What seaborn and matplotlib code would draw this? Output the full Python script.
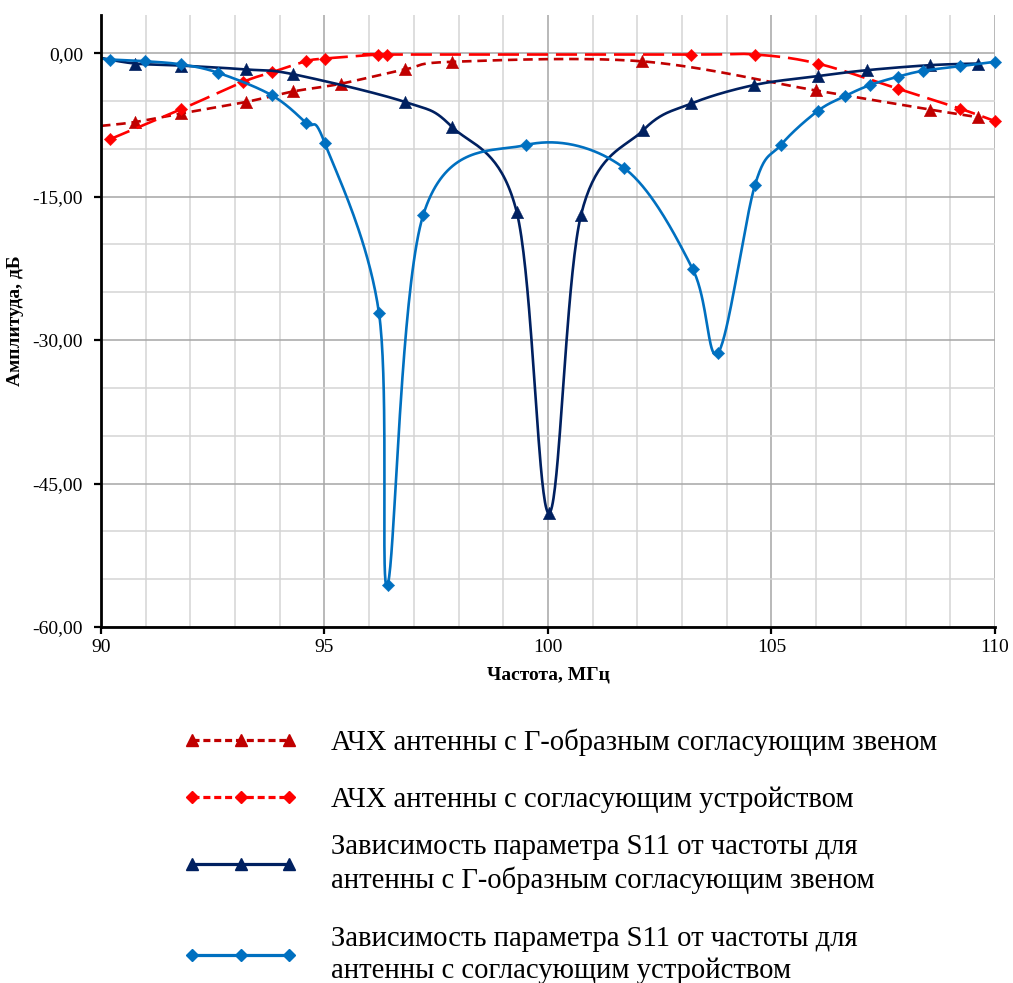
import numpy as np
import pandas as pd
import matplotlib
matplotlib.use("Agg")
import matplotlib.pyplot as plt
from matplotlib.lines import Line2D
from matplotlib.ticker import FixedLocator, FuncFormatter, MultipleLocator
import seaborn as sns

# ---------------- data ----------------
# АЧХ антенны с Г-образным согласующим звеном
afc_l_freq = [90.0, 90.76, 91.8, 93.24, 94.3, 95.36, 96.8, 97.85, 102.1, 106.0, 108.55, 109.63]
afc_l_db = [-7.6, -7.2, -6.3, -5.1, -4.0, -3.2, -1.7, -0.9, -0.85, -3.9, -5.9, -6.7]

# АЧХ антенны с согласующим устройством
afc_m_freq = [90.2, 91.8, 93.18, 93.82, 94.59, 95.01, 96.2, 96.39, 103.21, 104.63, 106.03,
              107.82, 109.22, 110.0]
afc_m_db = [-9.0, -5.85, -3.0, -2.0, -0.84, -0.56, -0.14, -0.14, -0.14, -0.14, -1.08,
            -3.7, -5.8, -7.1]

# S11, антенна с Г-образным согласующим звеном
s11_l_freq = [90.0, 90.76, 91.8, 93.24, 94.3, 96.8, 97.85, 99.3, 100.02, 100.74, 102.13,
              103.21, 104.6, 106.03, 107.13, 108.55, 109.63]
s11_l_db = [-0.5, -1.08, -1.3, -1.7, -2.2, -5.1, -7.7, -16.6, -48.1, -16.9, -8.05,
            -5.26, -3.34, -2.4, -1.78, -1.25, -1.08]

# S11, антенна с согласующим устройством
s11_m_freq = [90.0, 90.2, 90.98, 91.8, 92.62, 93.82, 94.59, 95.01, 96.22, 96.41, 97.21, 99.51,
              101.7, 103.24, 103.81, 104.63, 105.21, 106.03, 106.64, 107.2, 107.82, 108.38,
              109.22, 110.0]
s11_m_db = [-0.55, -0.66, -0.84, -1.18, -2.05, -4.4, -7.3, -9.44, -27.2, -55.6, -16.9, -9.6,
            -12.0, -22.6, -31.3, -13.8, -9.6, -6.06, -4.5, -3.34, -2.47, -1.85,
            -1.36, -0.9]

legend_labels = [
    "АЧХ антенны с Г-образным согласующим звеном",
    "АЧХ антенны с согласующим устройством",
    "Зависимость параметра S11 от частоты для\nантенны с Г-образным согласующим звеном",
    "Зависимость параметра S11 от частоты для\nантенны с согласующим устройством",
]
x_label = "Частота, МГц"
y_label = "Амплитуда, дБ"
x_ticks = [90, 95, 100, 105, 110]
y_ticks = [0, -15, -30, -45, -60]

# ---------------- style ----------------
sns.set_theme(style="white")
plt.rcParams["font.family"] = ["Liberation Serif", "DejaVu Serif"]
plt.rcParams["text.color"] = "black"
plt.rcParams["axes.labelcolor"] = "black"

C_DARKRED = "#C00000"
C_RED = "#FF0000"
C_NAVY = "#002060"
C_BLUE = "#0070C0"

fig = plt.figure(figsize=(10.13, 9.83), dpi=100)
ax = fig.add_axes([0.0997, 0.3622, 0.8825, 0.6226])
ax.set_xlim(90, 110)
ax.set_ylim(-60, 4)

# pixel scales of the plot area, used for screen-space smoothing (Excel-like)
SX = 44.7
SY = 9.567


def smooth(xs, ys, n=40):
    """Excel-style smoothed line (Bezier through points, computed in screen space)."""
    p = np.column_stack([np.asarray(xs) * SX, np.asarray(ys) * SY])
    m = len(p)
    out = [p[0]]
    t = np.linspace(0, 1, n)[1:, None]
    for i in range(m - 1):
        p0 = p[i - 1] if i > 0 else p[i]
        p1 = p[i]
        p2 = p[i + 1]
        p3 = p[i + 2] if i + 2 < m else p[i + 1]
        c1 = p1 + (p2 - p0) / 6.0
        c2 = p2 - (p3 - p1) / 6.0
        seg = ((1 - t) ** 3) * p1 + 3 * ((1 - t) ** 2) * t * c1 + 3 * (1 - t) * t ** 2 * c2 + t ** 3 * p2
        out.extend(seg)
    out = np.array(out)
    return out[:, 0] / SX, out[:, 1] / SY


series = [
    dict(x=afc_l_freq, y=afc_l_db, color=C_DARKRED, marker="^", ms=9, dashes=(3.6, 2.2)),
    dict(x=afc_m_freq, y=afc_m_db, color=C_RED, marker="D", ms=6.3, dashes=(8, 3)),
    dict(x=s11_l_freq, y=s11_l_db, color=C_NAVY, marker="^", ms=9, dashes=None),
    dict(x=s11_m_freq, y=s11_m_db, color=C_BLUE, marker="D", ms=6.3, dashes=None),
]

LW = 1.9
handles = []
for k, s in enumerate(series):
    sx, sy = smooth(s["x"], s["y"])
    df_line = pd.DataFrame({"f": sx, "a": sy})
    kw = dict(color=s["color"], linewidth=LW, zorder=3 + 2 * k, sort=False,
              estimator=None, ax=ax, legend=False)
    if s["dashes"] is not None:
        kw["linestyle"] = (0, s["dashes"])
    sns.lineplot(data=df_line, x="f", y="a", **kw)
    df_pts = pd.DataFrame({"f": s["x"], "a": s["y"]})
    df_pts = df_pts[df_pts["f"] > 90.05]
    sns.scatterplot(data=df_pts, x="f", y="a", marker=s["marker"], s=s["ms"] ** 2,
                    color=s["color"], edgecolor=s["color"], linewidth=0.3,
                    zorder=4 + 2 * k, ax=ax, legend=False, clip_on=False)
    h = Line2D([], [], color=s["color"], linewidth=LW + 0.4,
               linestyle=(0, (2.2, 1.2)) if s["dashes"] is not None else "-",
               marker=s["marker"], markersize=s["ms"] * 0.95,
               markerfacecolor=s["color"], markeredgecolor=s["color"])
    handles.append(h)

# ---------------- axes / grid ----------------
ax.xaxis.set_major_locator(FixedLocator(x_ticks))
ax.xaxis.set_minor_locator(MultipleLocator(1))
ax.yaxis.set_major_locator(FixedLocator(y_ticks))
ax.yaxis.set_minor_locator(MultipleLocator(5))
ax.yaxis.set_major_formatter(FuncFormatter(lambda v, p: f"{v:.2f}".replace(".", ",")))
ax.xaxis.set_major_formatter(FuncFormatter(lambda v, p: f"{int(round(v))}"))

ax.grid(which="major", color="#a6a6a6", linewidth=1.1, zorder=0)
ax.grid(which="minor", color="#d4d4d4", linewidth=1.1, zorder=0)
ax.set_axisbelow(True)

for side in ["top", "right"]:
    ax.spines[side].set_visible(False)
for side in ["left", "bottom"]:
    ax.spines[side].set_color("black")
    ax.spines[side].set_linewidth(2.0)
    ax.spines[side].set_zorder(20)

ax.tick_params(axis="both", which="major", direction="out", length=5, width=1.6,
               color="black", labelsize=14, labelcolor="black", bottom=True, left=True)
ax.tick_params(axis="y", which="major", pad=8)
ax.tick_params(axis="x", which="major", pad=4)
ax.tick_params(axis="both", which="minor", length=0)

ax.set_xlabel(x_label, fontsize=14, fontweight="bold", labelpad=7)
ax.set_ylabel(y_label, fontsize=14, fontweight="bold", labelpad=6)

# ---------------- legend (one entry per row, positioned like the original) ----------------
LEG_FS = 20.6
fs_px = LEG_FS * 100 / 72.0
row_y = [742, 800, 864, 955]
for h, lab, ypx in zip(handles, legend_labels, row_y):
    leg = fig.legend(handles=[h], labels=[lab], loc="center left",
                     bbox_to_anchor=(183 / 1013, 1 - ypx / 983), frameon=False,
                     fontsize=LEG_FS, numpoints=3, handlelength=115 / fs_px,
                     handletextpad=33 / fs_px, borderpad=0, borderaxespad=0)
    for t in leg.get_texts():
        t.set_linespacing(1.28)
        t.set_color("black")

fig.savefig("out.png", dpi=100)
